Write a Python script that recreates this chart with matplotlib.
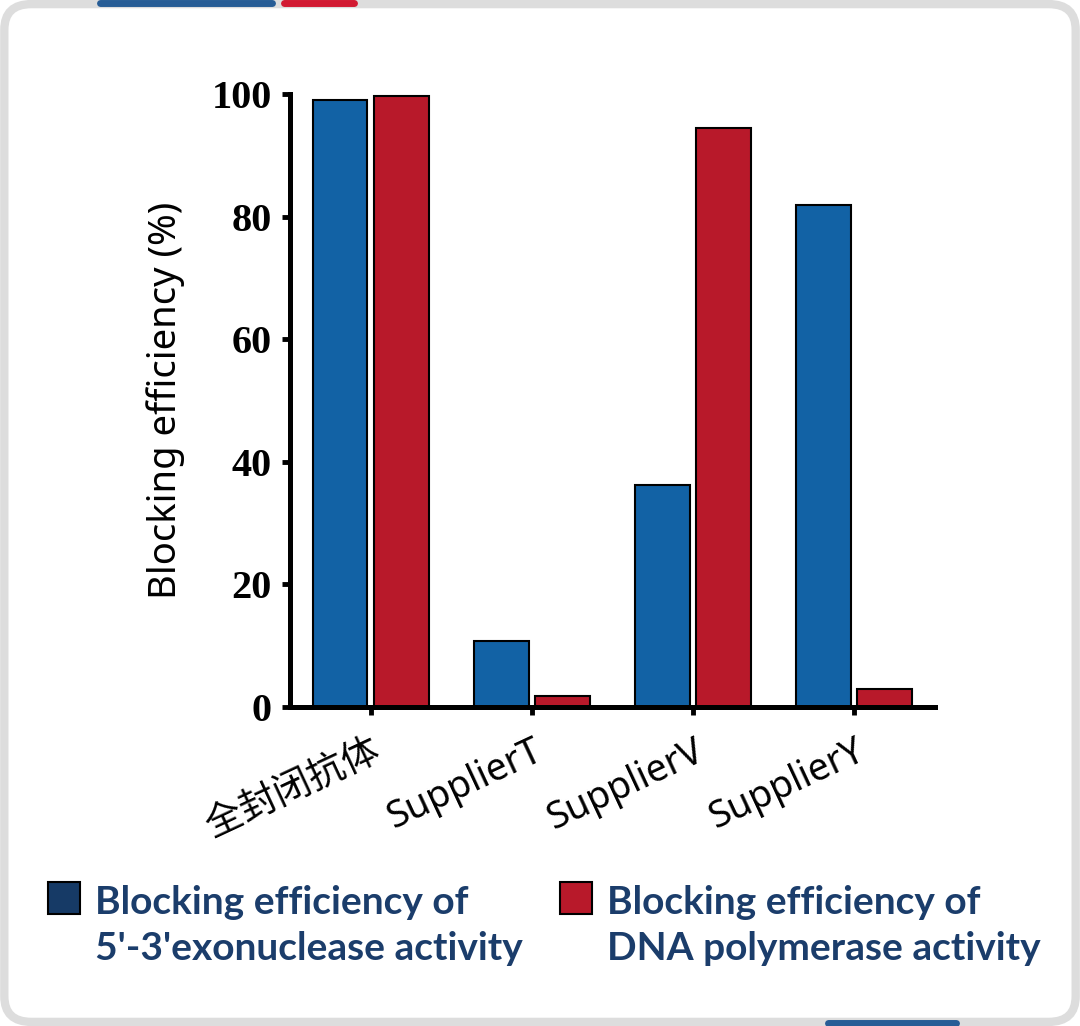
import numpy as np
import matplotlib.pyplot as plt
from matplotlib.patches import Rectangle, FancyBboxPatch
from matplotlib.lines import Line2D

# data
categories = ['全封闭抗体', 'SupplierT', 'SupplierV', 'SupplierY']
exonuclease = [99.0, 10.8, 36.2, 81.9]
polymerase = [99.7, 1.8, 94.5, 2.9]
legend_labels = ['Blocking efficiency of\n5\'-3\'exonuclease activity',
                 'Blocking efficiency of\nDNA polymerase activity']

blue = '#1262a5'
red = '#b8192a'
navy = '#163a66'

fig = plt.figure(figsize=(10.8, 10.26), dpi=100)

# card frame and decorative strips
fig.add_artist(FancyBboxPatch((0.004, 0.004), 0.992, 0.992, boxstyle='round,pad=0,rounding_size=0.025',
                              transform=fig.transFigure, facecolor='white', edgecolor='#dddddd',
                              linewidth=6, zorder=-5))
fig.add_artist(Line2D([0.093, 0.252], [0.997, 0.997], color='#275d96', lw=5, solid_capstyle='round'))
fig.add_artist(Line2D([0.263, 0.328], [0.997, 0.997], color='#d21a32', lw=5, solid_capstyle='round'))
fig.add_artist(Line2D([0.767, 0.885], [0.003, 0.003], color='#275d96', lw=5, solid_capstyle='round'))

ax = fig.add_axes([0.2685, 0.3109, 0.597, 0.5975])
ax.patch.set_alpha(0)
x = np.arange(len(categories))
w = 0.34
ax.bar(x - 0.19, exonuclease, w, color=blue, edgecolor='black', linewidth=1.5, zorder=2)
ax.bar(x + 0.19, polymerase, w, color=red, edgecolor='black', linewidth=1.5, zorder=2)

ax.set_xlim(-0.5, 3.5)
ax.set_ylim(0, 100)
ax.set_yticks([0, 20, 40, 60, 80, 100])
ax.set_xticks(x)
ax.set_xticklabels(categories, rotation=25, ha='right', rotation_mode='anchor',
                   fontsize=27, family=['Noto Sans', 'Noto Sans CJK SC'])
for lab in ax.get_yticklabels():
    lab.set_fontfamily('Liberation Serif')
    lab.set_fontweight('bold')
    lab.set_fontsize(29)
ax.tick_params(axis='both', width=3.5, length=6, direction='out')
ax.tick_params(axis='y', pad=7)
ax.tick_params(axis='x', pad=12)
for s in ['top', 'right']:
    ax.spines[s].set_visible(False)
for s in ['left', 'bottom']:
    ax.spines[s].set_linewidth(3.6)
    ax.spines[s].set_zorder(3)
ax.set_ylabel('Blocking efficiency (%)', fontsize=27.5, family='Noto Sans', labelpad=19)

# legend
for i, (lab, col) in enumerate(zip(legend_labels, [navy, red])):
    x0 = 48 / 1080 + i * 512 / 1080
    fig.add_artist(Rectangle((x0, 1 - 914 / 1026), 32 / 1080, 32 / 1026, transform=fig.transFigure,
                             facecolor=col, edgecolor='black', linewidth=1.5))
    fig.text(x0 + 47 / 1080, 1 - 885 / 1026, lab, ha='left', va='top', fontsize=28,
             family='Lato', fontweight='bold', color='#1b3d6b', linespacing=1.38)

fig.savefig('out.png', dpi=100)
